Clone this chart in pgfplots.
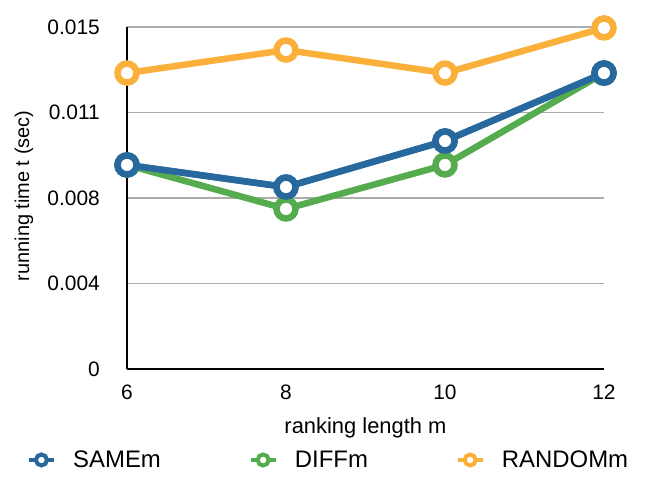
\documentclass[border=0pt]{standalone}
\usepackage{pgfplots}
\pgfplotsset{compat=1.18}
\usepackage{fontspec}
\setmainfont{Liberation Sans}
\definecolor{sameblue}{HTML}{27689F}
\definecolor{diffgreen}{HTML}{55AC4F}
\definecolor{randorange}{HTML}{FBB03B}
\begin{document}
\begin{tikzpicture}
\begin{axis}[
  at={(0,0)}, anchor=south west,
  scale only axis,
  width=477bp, height=342bp,
  xmin=6, xmax=12, ymin=0, ymax=0.015,
  xtick={6,8,10,12},
  ytick={0,0.00375,0.0075,0.01125,0.015},
  yticklabels={0,0.004,0.008,0.011,0.015},
  scaled y ticks=false,
  /pgf/number format/assume math mode=true,
  major tick length=0pt,
  axis lines=left,
  axis line style={black, line width=1.5bp, -},
  ymajorgrids,
  grid style={gray!65, line width=1.5bp},
  tick label style={font=\fontsize{21}{24}\selectfont, inner sep=0pt},
  xticklabel style={anchor=north, yshift=-16bp},
  yticklabel style={anchor=east, xshift=-27bp},
  xlabel={ranking length m},
  ylabel={running time t (sec)},
  xlabel style={font=\fontsize{22}{24}\selectfont, at={(axis description cs:0.5,0)},
    anchor=base, yshift=-64bp},
  ylabel style={font=\fontsize{20}{24}\selectfont, at={(axis description cs:-0.216,0.506)},
    anchor=center},
  clip=false,
  every axis plot/.append style={line width=6.5bp, mark=*, mark size=9.5bp,
    mark options={fill=white, line width=6.5bp}},
  legend columns=3,
  legend style={at={(-0.2096,-0.266)}, anchor=west, draw=none, inner sep=0pt,
    font=\fontsize{24}{26}\selectfont,
    nodes={inner xsep=0pt},
    /tikz/every even column/.append style={column sep=88bp}},
  legend image code/.code={
    \draw[line width=3.5bp] (0bp,0) -- (25bp,0);
    \draw[line width=4bp, fill=white] (12.5bp,0) circle (5.5bp);
    \path (41bp,0);
  },
]
\addplot[color=sameblue] coordinates {(6,0.00895) (8,0.00798) (10,0.0100) (12,0.01298)};
\addlegendentry{SAMEm}
\addplot[color=diffgreen] coordinates {(6,0.00895) (8,0.00702) (10,0.00895) (12,0.01298)};
\addlegendentry{DIFFm}
\addplot[color=randorange] coordinates {(6,0.01298) (8,0.01399) (10,0.01298) (12,0.01496)};
\addlegendentry{RANDOMm}
% blue drawn again so it lies over the green line
\addplot[color=sameblue, forget plot] coordinates {(6,0.00895) (8,0.00798) (10,0.0100) (12,0.01298)};
\end{axis}
\pgfresetboundingbox
\path (-127bp,-112bp) rectangle (532bp,369bp);
\end{tikzpicture}
\end{document}
